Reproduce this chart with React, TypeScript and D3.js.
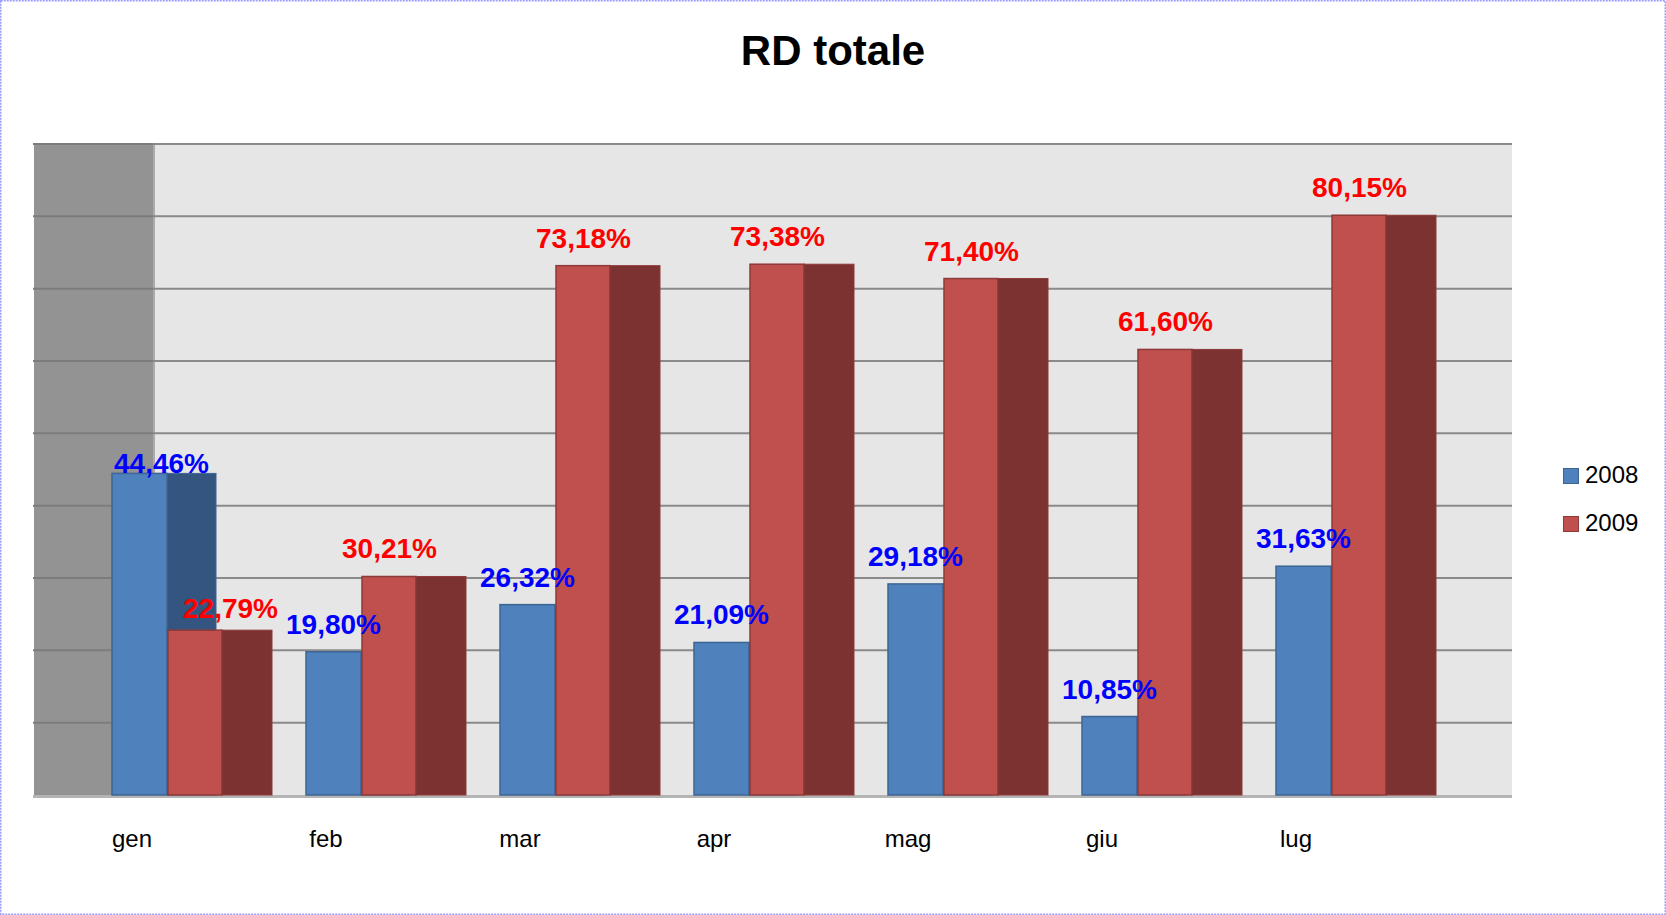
import * as d3 from 'd3';
import { useEffect } from 'react';

const months = ['gen', 'feb', 'mar', 'apr', 'mag', 'giu', 'lug'];
const values2008 = [44.46, 19.8, 26.32, 21.09, 29.18, 10.85, 31.63];
const values2009 = [22.79, 30.21, 73.18, 73.38, 71.4, 61.6, 80.15];
const yTicks = [0, 10, 20, 30, 40, 50, 60, 70, 80, 90];
const seriesNames = ['2008', '2009'];

const W = 1666;
const H = 915;

const colors = {
  blue: '#4f81bd',
  blueSide: '#34557f',
  blueEdge: '#3c6594',
  red: '#c0504d',
  redSide: '#7b3231',
  redEdge: '#8e3a38',
  wall: '#939393',
  back: '#e6e6e6',
  grid: '#8a8a8a',
};

const itFormat = d3.formatLocale({
  decimal: ',',
  thousands: '.',
  grouping: [3],
  currency: ['€', ''],
}).format('.2f');

export default function App() {
  useEffect(() => {
    document.body.style.margin = '0';
  }, []);

  const plot = { left: 34, wallRight: 153, right: 1512, top: 144, bottom: 795 };

  const y = d3.scaleLinear().domain([0, 90]).range([plot.bottom, plot.top]);
  const x = d3.scaleBand<string>().domain(months).range([95, 95 + 7 * 194]).padding(0);

  // bar geometry inside each band
  const frontW = 55;
  const sideW = 49;
  const blueOff = 17;
  const redOff = blueOff + frontW + 1;

  const font = '"Liberation Sans", Arial, sans-serif';

  return (
    <svg width={W} height={H} style={{ display: 'block', background: '#fff' }}>
      {/* walls */}
      <rect x={plot.left} y={plot.top} width={plot.wallRight - plot.left} height={plot.bottom - plot.top} fill={colors.wall} />
      <rect x={plot.wallRight} y={plot.top} width={plot.right - plot.wallRight} height={plot.bottom - plot.top} fill={colors.back} />
      <line x1={plot.wallRight + 1} x2={plot.wallRight + 1} y1={plot.top} y2={plot.bottom} stroke="#ababab" strokeWidth={2} />

      {/* gridlines */}
      {yTicks.slice(1).map((t) => (
        <g key={t}>
          <line x1={plot.wallRight} x2={plot.right} y1={y(t)} y2={y(t)} stroke={colors.grid} strokeWidth={2} />
          <line x1={plot.left - 1} x2={plot.wallRight} y1={y(t)} y2={y(t)} stroke="#7c7c7c" strokeWidth={2} />
        </g>
      ))}
      <line x1={plot.left - 1} x2={plot.right} y1={plot.bottom + 1.5} y2={plot.bottom + 1.5} stroke="#b4b4b4" strokeWidth={3} />

      {/* bars */}
      {months.map((m, i) => {
        const x0 = x(m) as number;
        const b = values2008[i];
        const r = values2009[i];
        return (
          <g key={m}>
            <rect x={x0 + blueOff + frontW} y={y(b)} width={sideW} height={plot.bottom - y(b)} fill={colors.blueSide} stroke={colors.blueEdge} strokeWidth={1} />
            <rect x={x0 + blueOff} y={y(b)} width={frontW} height={plot.bottom - y(b)} fill={colors.blue} stroke={colors.blueEdge} strokeWidth={1.5} />
            <rect x={x0 + redOff} y={y(r)} width={frontW - 1} height={plot.bottom - y(r)} fill={colors.red} stroke={colors.redEdge} strokeWidth={1.5} />
            <rect x={x0 + redOff + frontW - 1} y={y(r)} width={sideW + 1} height={plot.bottom - y(r)} fill={colors.redSide} stroke={colors.redEdge} strokeWidth={1} />
          </g>
        );
      })}

      {/* data labels */}
      {months.map((m, i) => {
        const x0 = x(m) as number;
        const first = i === 0;
        const bx = x0 + blueOff + frontW / 2 + (first ? 22 : 0);
        const rx = x0 + redOff + frontW / 2 + (first ? 35 : 0);
        const by = y(values2008[i]) - (first ? 0 : 18);
        const ry = y(values2009[i]) - (first ? 12 : 18);
        return (
          <g key={m} fontFamily={font} fontWeight="bold" fontSize={28} textAnchor="middle">
            <text x={bx} y={by} fill="#0000ff">{itFormat(values2008[i])}%</text>
            <text x={rx} y={ry} fill="#ff0000">{itFormat(values2009[i])}%</text>
          </g>
        );
      })}

      {/* month labels */}
      {months.map((m) => (
        <text key={m} x={(x(m) as number) + 37} y={847} textAnchor="middle" fontFamily={font} fontSize={24} fill="#000">
          {m}
        </text>
      ))}

      {/* title */}
      <text x={833} y={65} textAnchor="middle" fontFamily={font} fontWeight="bold" fontSize={42} fill="#000">
        RD totale
      </text>

      {/* legend */}
      {seriesNames.map((s, i) => (
        <g key={s} transform={`translate(1563, ${468 + i * 48})`}>
          <rect x={0.5} y={0.5} width={15} height={15} fill={i === 0 ? colors.blue : colors.red} stroke={i === 0 ? colors.blueEdge : colors.redEdge} />
          <text x={22} y={15} fontFamily={font} fontSize={24} fill="#000">{s}</text>
        </g>
      ))}

      {/* frame */}
      <rect x={0.75} y={0.75} width={W - 1.5} height={H - 1.5} fill="none" stroke="#9a9aff" strokeWidth={1.5} strokeDasharray="2,1" />
    </svg>
  );
}
